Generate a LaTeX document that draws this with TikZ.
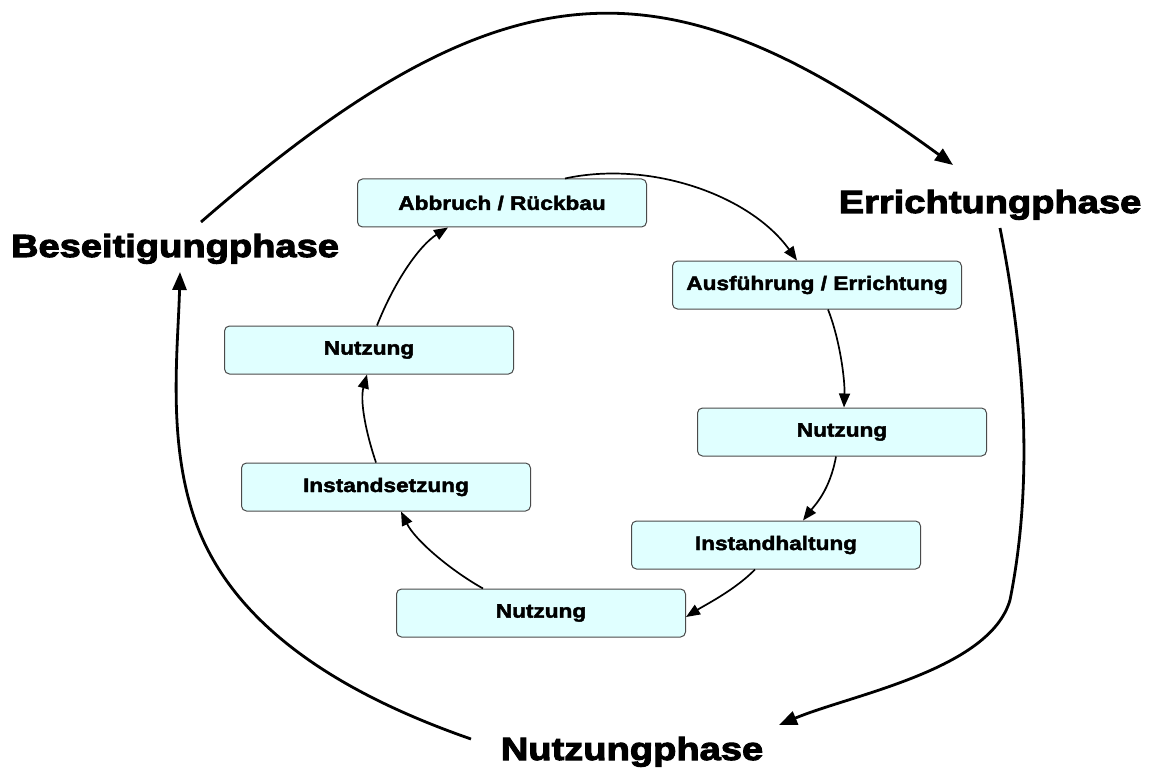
\documentclass[tikz,border=0pt]{standalone}
\usepackage{fontspec}
\usetikzlibrary{arrows.meta,calc}
\newfontfamily\heavyfont[FakeStretch=1.19,FakeBold=3.2]{Liberation Sans Bold}
\newfontfamily\boxfont[FakeStretch=1.16,FakeBold=2.2]{Liberation Sans Bold}
\definecolor{boxfill}{HTML}{E0FFFF}
\definecolor{boxline}{HTML}{4A4A4A}
\tikzset{
  phasebox/.style={draw=boxline, line width=1pt, fill=boxfill, rounded corners=5pt,
    minimum width=289pt, minimum height=48pt, inner sep=0pt,
    font=\boxfont\fontsize{19.5}{22}\selectfont},
  biglabel/.style={inner sep=0pt, font=\heavyfont\fontsize{32}{36}\selectfont},
  innerarrow/.style={line width=1.7pt, -{Triangle[length=14pt,width=11pt]}},
  outerarrow/.style={line width=2.8pt, -{Triangle[length=18pt,width=14pt]}}
}
\begin{document}
\begin{tikzpicture}[x=1pt,y=-1pt]
\useasboundingbox (0,0) rectangle (1154,778);
% boxes
\node[phasebox] (a1) at (502,203) {Abbruch / R\"uckbau};
\node[phasebox] (a2) at (817,285) {Ausf\"uhrung / Errichtung};
\node[phasebox] (n1) at (842,432) {Nutzung};
\node[phasebox] (ih) at (776,545) {Instandhaltung};
\node[phasebox] (n3) at (541,613) {Nutzung};
\node[phasebox] (is) at (386,487) {Instandsetzung};
\node[phasebox] (n2) at (369,350) {Nutzung};
% big labels
\node[biglabel, anchor=base] (err) at (990,213) {Errichtungphase};
\node[biglabel, anchor=base] (bes) at (175,257) {Beseitigungphase};
\node[biglabel, anchor=base] (nut) at (632,760) {Nutzungphase};
% outer connector ends
\coordinate (bes-out) at (201,222);
\coordinate (err-in) at (953,165);
\coordinate (err-out) at (1000,228);
\coordinate (nut-in) at (779,725);
\coordinate (nut-out) at (471,739);
\coordinate (bes-in) at (180,272);
% outer arcs
\draw[outerarrow] (bes-out) .. controls (507,-44) and (667,-44) .. (err-in);
\draw[outerarrow] (err-out) .. controls (1030,380) and (1030,500) .. (1010,600)
   .. controls (990,670) and (850,695) .. (nut-in);
\draw[outerarrow] (nut-out) .. controls (330,690) and (230,620) .. (195,520)
   .. controls (167,440) and (178,350) .. (bes-in);
% inner arrows
\draw[innerarrow] ([xshift=63pt]a1.north) .. controls (650,160) and (750,195) .. ([xshift=-20pt]a2.north);
\draw[innerarrow] ([xshift=11pt]a2.south) .. controls (840,340) and (845,380) .. ([xshift=2pt]n1.north);
\draw[innerarrow] ([xshift=-6pt]n1.south) .. controls (830,490) and (815,505) .. ([xshift=27pt]ih.north);
\draw[innerarrow] ([xshift=-21pt]ih.south) .. controls (735,590) and (705,605) .. ([yshift=-4pt]n3.east);
\draw[innerarrow] ([xshift=-58pt]n3.north) .. controls (450,570) and (415,540) .. ([xshift=15pt]is.south);
\draw[innerarrow] ([xshift=-10pt]is.north) .. controls (365,430) and (360,400) .. ([xshift=-2pt]n2.south);
\draw[innerarrow] ([xshift=8pt]n2.north) .. controls (395,280) and (420,245) .. ([xshift=-54pt]a1.south);
\end{tikzpicture}
\end{document}
